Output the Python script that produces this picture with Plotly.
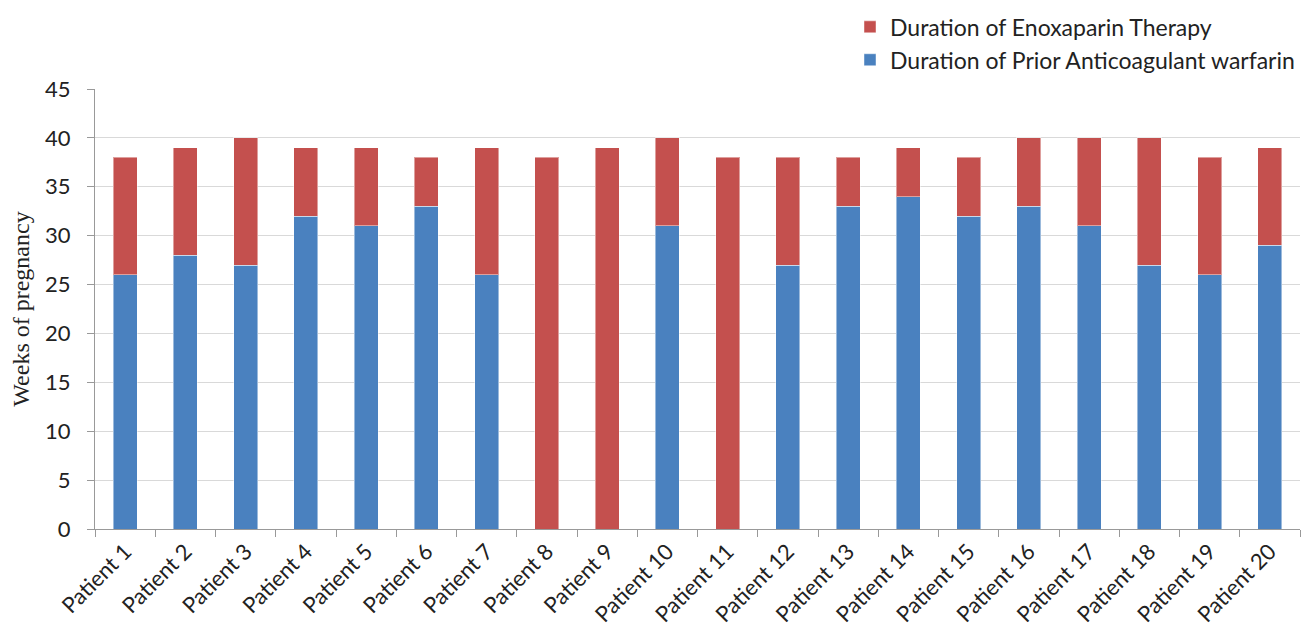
import plotly.graph_objects as go

patients = [f"Patient {i}" for i in range(1, 21)]
total_weeks = [38, 39, 40, 39, 39, 38, 39, 38, 39, 40,
               38, 38, 38, 39, 38, 40, 40, 40, 38, 39]
warfarin_weeks = [26, 28, 27, 32, 31, 33, 26, 0, 0, 31,
                  0, 27, 33, 34, 32, 33, 31, 27, 26, 29]
enoxaparin_weeks = [t - w for t, w in zip(total_weeks, warfarin_weeks)]

label_font = "Lato, 'Open Sans', sans-serif"

fig = go.Figure()
fig.add_trace(go.Bar(
    x=patients, y=warfarin_weeks,
    name="Duration of Prior Anticoagulant warfarin",
    marker=dict(color="#4A81BF", line=dict(color="rgba(255,255,255,0.45)", width=1)),
    width=0.4,
))
fig.add_trace(go.Bar(
    x=patients, y=enoxaparin_weeks,
    name="Duration of Enoxaparin Therapy",
    marker=dict(color="#C4504E", line=dict(color="rgba(255,255,255,0.45)", width=1)),
    width=0.4,
))

fig.update_layout(
    barmode="stack",
    width=1305, height=642,
    margin=dict(l=95, r=5, t=87, b=113),
    plot_bgcolor="white", paper_bgcolor="white",
    font=dict(family=label_font, size=22, color="#222222"),
    legend=dict(
        traceorder="reversed",
        x=1.0, xanchor="right", y=1.19, yanchor="top",
        font=dict(size=23, family=label_font, color="#222222"),
        itemwidth=30, tracegroupgap=0,
        borderwidth=0,
    ),
    xaxis=dict(
        tickangle=-45,
        tickson="boundaries",
        ticks="outside", ticklen=7, tickcolor="#999999",
        showline=True, linecolor="#999999", linewidth=1,
        tickfont=dict(size=22, family=label_font),
        showgrid=False,
    ),
    yaxis=dict(
        range=[0, 45], dtick=5,
        ticks="outside", ticklen=7, tickcolor="#999999",
        ticklabelstandoff=12,
        showline=True, linecolor="#999999", linewidth=1,
        gridcolor="#D9D9D9", gridwidth=1,
        tickfont=dict(size=22, family=label_font),
        title=dict(text="Weeks of pregnancy", standoff=8,
                   font=dict(family="'Liberation Serif', 'Times New Roman', serif", size=24)),
        zeroline=False,
    ),
)

fig.write_html("out.html")
